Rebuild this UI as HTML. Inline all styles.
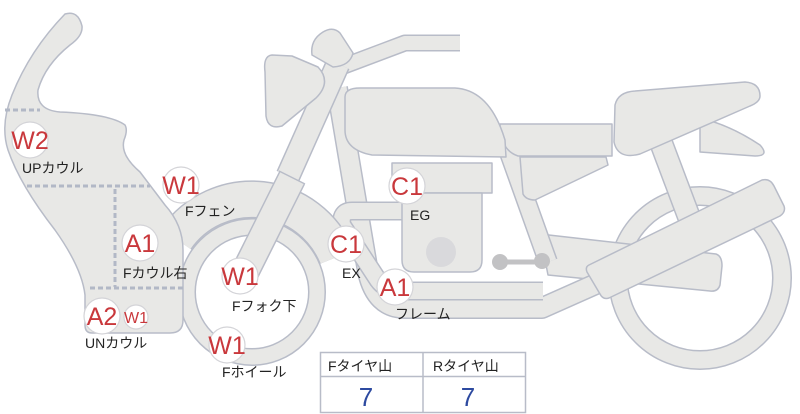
<!DOCTYPE html>
<html><head><meta charset="utf-8"><style>
html,body{margin:0;padding:0;background:#fff;}
svg{display:block;}
.s{fill:#e8e8e6;stroke:#b8bcc8;stroke-width:1.5;stroke-linejoin:round;}
.bo{fill:none;stroke:#b8bcc8;stroke-linejoin:round;}
.bi{fill:none;stroke:#e8e8e6;stroke-linejoin:round;}
.c{fill:#fff;stroke:#d4d4d8;stroke-width:1.2;}
.r{fill:#c9383c;font-family:"Liberation Sans",sans-serif;font-size:25px;text-anchor:middle;}
.l{fill:#222;font-family:"Liberation Sans","Noto Sans CJK JP",sans-serif;font-size:14px;}
</style></head><body>
<svg width="800" height="414" viewBox="0 0 800 414" xmlns="http://www.w3.org/2000/svg">
<!-- rear wheel -->
<circle cx="700" cy="278" r="82" fill="none" stroke="#b8bcc8" stroke-width="20"/>
<circle cx="700" cy="278" r="82" fill="none" stroke="#e8e8e6" stroke-width="17"/>
<!-- rear shock -->
<path class="bo" stroke-width="24" d="M660,140 L692,225"/>
<path class="bi" stroke-width="21" d="M660,140 L692,225"/>
<!-- lower rear arm -->
<path class="s" d="M540,234 L716,254 Q722,256 722,266 L720,285 Q718,292 710,291 L548,275 Z"/>
<!-- rear frame tube -->
<path class="bo" stroke-width="20" d="M508,150 L548,262"/>
<path class="bi" stroke-width="17" d="M508,150 L548,262"/>
<!-- down tube / frame bottom -->
<path class="bo" stroke-width="22" d="M337,88 L368,272 Q376,308 405,308 L542,308 L605,280"/>
<path class="bi" stroke-width="19" d="M337,88 L368,272 Q376,308 405,308 L542,308 L605,280"/>
<!-- exhaust -->
<path class="bo" stroke-width="19" d="M402,211 L352,211 Q340,211 342,225 L378,280 Q386,291 402,291 L543,291"/>
<path class="bi" stroke-width="16" d="M402,211 L352,211 Q340,211 342,225 L378,280 Q386,291 402,291 L543,291"/>
<!-- muffler -->
<path class="s" d="M589,265 L762,180 Q770,178 774,186 L784,206 Q786,212 780,216 L609,298 Q603,300 600,294 L587,272 Q585,267 589,265 Z"/>
<!-- engine -->
<rect class="s" x="392" y="163" width="100" height="30"/>
<path class="s" d="M402,193 L482,193 L482,260 Q482,272 470,272 L414,272 Q402,272 402,260 Z"/>
<circle cx="441" cy="252" r="15" fill="#d9d9dc"/>
<path d="M500,262 L545,262" stroke="#c2c2c4" stroke-width="5"/>
<circle cx="500" cy="262" r="8" fill="#c2c2c4"/><circle cx="542" cy="261" r="8" fill="#c2c2c4"/>
<!-- seat -->
<path class="s" d="M520,157 L606,157 L608,165 L535,200 Q526,200 523,194 Z"/>
<path class="s" d="M500,124 L612,124 L612,156 L518,156 Q500,150 500,124 Z"/>
<path class="s" d="M700,118 Q730,125 760,145 Q770,156 755,156 L700,152 Z"/>
<path class="s" d="M615,105 Q618,92 635,91 L745,82 Q760,83 760,96 Q760,102 750,106 L640,154 Q618,160 614,142 Z"/>
<!-- tank -->
<path class="s" d="M345,97 Q345,88 360,88 L455,88 Q490,90 505,140 L506,157 L372,155 Q345,150 345,130 Z"/>
<!-- front wheel -->
<circle cx="252" cy="292" r="65" fill="none" stroke="#b8bcc8" stroke-width="18"/>
<circle cx="252" cy="292" r="65" fill="none" stroke="#e8e8e6" stroke-width="15"/>
<!-- fender -->
<path class="bo" stroke-width="38" d="M176,239 A92,92 0 0 1 337,257"/>
<path class="bi" stroke-width="35" d="M176,239 A92,92 0 0 1 337,257"/>
<!-- handlebar -->
<path class="bo" stroke-width="17" d="M328,72 L405,43 L460,43"/>
<path class="bi" stroke-width="14" d="M328,72 L405,43 L460,43"/>
<!-- fork -->
<path class="bo" stroke-width="25" d="M338,64 L288,176"/>
<path class="bi" stroke-width="22" d="M338,64 L288,176"/>
<path class="bo" stroke-width="29" d="M292,178 L242,278"/>
<path class="bi" stroke-width="26" d="M292,178 L242,278"/>
<path d="M279,171 L305,184" stroke="#b8bcc8" stroke-width="1.5"/>
<!-- headlight -->
<path class="s" d="M312,55 Q310,40 323,32 Q333,26 340,33 L353,53 Q350,66 333,67 Z"/>
<path class="s" d="M272,55 Q263,56 265,72 L266,116 Q268,130 282,126 L316,98 Q332,82 318,67 L292,56 Z"/>
<!-- cowl -->
<path class="s" d="M65,14 Q78,10 82,26 Q83,36 70,45 Q45,65 38,90 Q36,110 60,112 Q110,114 125,125 Q128,130 124,140 Q120,155 140,172 L165,205 Q183,225 183,250 L183,320 Q183,333 170,333 L92,333 Q85,333 85,325 L85,295 Q82,268 55,230 Q20,185 8,150 Q0,125 12,95 Q30,50 65,14 Z"/>
<g stroke="#b2b8c6" stroke-width="3" stroke-dasharray="5,3" fill="none">
<path d="M5,110 L40,110"/><path d="M27,186 L150,186"/><path d="M115,189 L115,287"/><path d="M90,288 L183,288"/>
</g>
<!-- labels -->
<circle class="c" cx="30" cy="140" r="18"/><text class="r" x="30" y="149">W2</text>
<text class="l" x="22" y="173">UPカウル</text>
<circle class="c" cx="181" cy="185" r="18"/><text class="r" x="181" y="194">W1</text>
<text class="l" x="185" y="216">Fフェン</text>
<circle class="c" cx="140" cy="243" r="18"/><text class="r" x="140" y="252">A1</text>
<text class="l" x="123" y="278">Fカウル右</text>
<circle class="c" cx="240" cy="276" r="18"/><text class="r" x="240" y="285">W1</text>
<text class="l" x="232" y="311">Fフォク下</text>
<circle class="c" cx="102" cy="316" r="18"/><text class="r" x="102" y="325">A2</text>
<circle class="c" cx="136" cy="317" r="12"/><text class="r" x="136" y="323" style="font-size:16px">W1</text>
<text class="l" x="85" y="348">UNカウル</text>
<circle class="c" cx="227" cy="345" r="18"/><text class="r" x="227" y="354">W1</text>
<text class="l" x="222" y="377">Fホイール</text>
<circle class="c" cx="407" cy="186" r="18"/><text class="r" x="407" y="195">C1</text>
<text class="l" x="410" y="220">EG</text>
<circle class="c" cx="346" cy="244" r="18"/><text class="r" x="346" y="253">C1</text>
<text class="l" x="342" y="278">EX</text>
<circle class="c" cx="395" cy="287" r="18"/><text class="r" x="395" y="296">A1</text>
<text class="l" x="395" y="319">フレーム</text>
<!-- table -->
<rect x="320.5" y="352.5" width="205" height="60" fill="#fff" stroke="#b8bcc8" stroke-width="1.5"/>
<line x1="320" y1="376.5" x2="526" y2="376.5" stroke="#b8bcc8" stroke-width="1.5"/>
<line x1="423" y1="352" x2="423" y2="413" stroke="#b8bcc8" stroke-width="1.5"/>
<text class="l" x="328" y="371">Fタイヤ山</text>
<text class="l" x="433" y="371">Rタイヤ山</text>
<text x="366" y="406" fill="#2d4aa0" font-family="Liberation Sans,sans-serif" font-size="26" text-anchor="middle">7</text>
<text x="468" y="406" fill="#2d4aa0" font-family="Liberation Sans,sans-serif" font-size="26" text-anchor="middle">7</text>
</svg>
</body></html>
